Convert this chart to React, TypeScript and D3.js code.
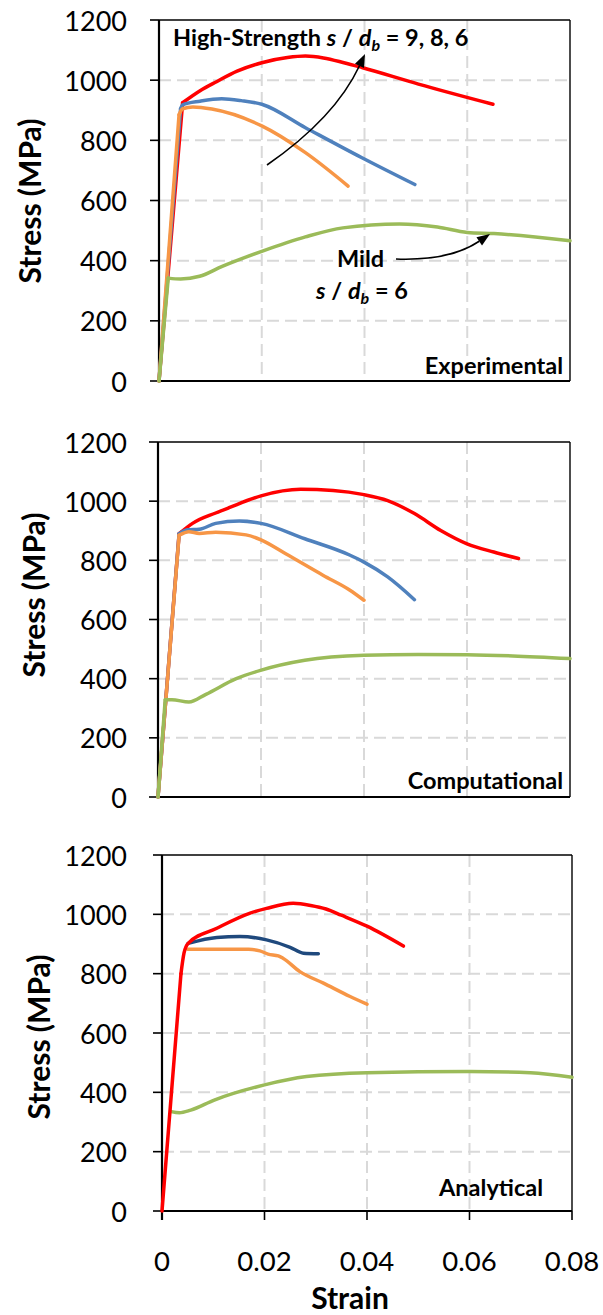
import React from 'react';
import * as d3 from 'd3';

type Pt = [number, number];

// ---------- data ----------
const strainTicks: number[] = [0, 0.02, 0.04, 0.06, 0.08];
const strainTickLabels: string[] = ['0', '0.02', '0.04', '0.06', '0.08'];
const stressTicks: number[] = [0, 200, 400, 600, 800, 1000, 1200];

// Experimental
const redExp: Pt[] = [[0, 0], [0.0046, 925], [0.008, 965], [0.0112, 995], [0.0152, 1030], [0.02, 1058], [0.025, 1075], [0.0285, 1080], [0.032, 1074], [0.036, 1058], [0.0395, 1042], [0.0505, 987], [0.065, 920]];
const blueExp: Pt[] = [[0, 0], [0.0042, 905], [0.0046, 918], [0.008, 930], [0.0122, 938], [0.016, 932], [0.02, 920], [0.0285, 842], [0.0395, 742], [0.0498, 653]];
const orangeExp: Pt[] = [[0, 0], [0.0039, 885], [0.0046, 905], [0.0066, 911], [0.0103, 904], [0.02, 848], [0.0285, 759], [0.0368, 648]];
const greenExp: Pt[] = [[0, 0], [0.0018, 342], [0.0042, 339], [0.0079, 348], [0.0123, 381], [0.02, 431], [0.0285, 479], [0.0358, 509], [0.0468, 522], [0.0542, 512], [0.06, 494], [0.0652, 490], [0.08, 466]];

// Computational
const redComp: Pt[] = [[0, 0], [0.0041, 890], [0.0067, 925], [0.0112, 960], [0.0138, 978], [0.02, 1018], [0.0277, 1040], [0.034, 1036], [0.04, 1022], [0.0446, 1002], [0.0498, 958], [0.0549, 901], [0.06, 856], [0.0652, 828], [0.07, 806]];
const blueComp: Pt[] = [[0, 0], [0.0041, 890], [0.0057, 903], [0.008, 905], [0.0112, 925], [0.0158, 933], [0.02, 925], [0.0285, 873], [0.0372, 818], [0.04, 794], [0.0446, 744], [0.0498, 667]];
const orangeComp: Pt[] = [[0, 0], [0.0041, 885], [0.006, 897], [0.008, 891], [0.0112, 895], [0.0171, 886], [0.02, 869], [0.0248, 822], [0.0321, 749], [0.0372, 700], [0.04, 665]];
const greenComp: Pt[] = [[0, 0], [0.0014, 329], [0.0027, 329], [0.006, 321], [0.0093, 347], [0.0152, 400], [0.0199, 428], [0.0285, 462], [0.04, 479], [0.0505, 482], [0.06, 481], [0.0689, 477], [0.08, 468]];

// Analytical
const redAna: Pt[] = [[0, 0], [0.0037, 800], [0.0043, 870], [0.0051, 902], [0.0107, 953], [0.0172, 1004], [0.0204, 1020], [0.0256, 1037], [0.029, 1030], [0.032, 1018], [0.035, 997], [0.04, 960], [0.0471, 893]];
const navyAna: Pt[] = [[0.0051, 902], [0.0107, 922], [0.0152, 925], [0.0204, 914], [0.025, 889], [0.0276, 869], [0.0305, 867]];
const orangeAna: Pt[] = [[0.005, 882], [0.0169, 882], [0.0191, 877], [0.0207, 866], [0.0227, 860], [0.0236, 852], [0.0269, 807], [0.0315, 768], [0.0367, 723], [0.04, 697]];
const greenAna: Pt[] = [[0.0018, 335], [0.0034, 331], [0.0056, 340], [0.0102, 374], [0.02, 425], [0.0282, 453], [0.04, 466], [0.06, 470], [0.0719, 466], [0.08, 451]];

// ---------- style / layout ----------
const RED = '#FF0000';
const BLUE = '#4F81BD';
const ORANGE = '#F79646';
const GREEN = '#9BBB59';
const NAVY = '#1F497D';
const FONT = "Lato, 'Open Sans', 'Noto Sans', sans-serif";

interface SeriesDef { data: Pt[]; color: string; linearUntil: number }
interface PanelDef {
  name: string; top: number; bottom: number; left: number; right: number;
  titleX: number; titleY: number; labelX: number; labelY: number;
  series: SeriesDef[]; xAxisLabels: boolean;
}

const panels: PanelDef[] = [
  {
    name: 'Experimental', top: 20, bottom: 381, left: 159, right: 570,
    titleX: 29, titleY: 201, labelX: 563, labelY: 374, xAxisLabels: false,
    series: [
      { data: redExp, color: RED, linearUntil: 1 },
      { data: blueExp, color: BLUE, linearUntil: 1 },
      { data: orangeExp, color: ORANGE, linearUntil: 1 },
      { data: greenExp, color: GREEN, linearUntil: 1 },
    ],
  },
  {
    name: 'Computational', top: 442, bottom: 797, left: 158, right: 570,
    titleX: 33, titleY: 595, labelX: 563, labelY: 789, xAxisLabels: false,
    series: [
      { data: redComp, color: RED, linearUntil: 1 },
      { data: blueComp, color: BLUE, linearUntil: 1 },
      { data: orangeComp, color: ORANGE, linearUntil: 1 },
      { data: greenComp, color: GREEN, linearUntil: 1 },
    ],
  },
  {
    name: 'Analytical', top: 855, bottom: 1211, left: 162, right: 572,
    titleX: 38, titleY: 1037, labelX: 543, labelY: 1196, xAxisLabels: true,
    series: [
      { data: greenAna, color: GREEN, linearUntil: 0 },
      { data: orangeAna, color: ORANGE, linearUntil: 0 },
      { data: navyAna, color: NAVY, linearUntil: 0 },
      { data: redAna, color: RED, linearUntil: 1 },
    ],
  },
];

function Arrow({ s, c, e }: { s: Pt; c: Pt; e: Pt }) {
  const p = d3.path();
  const ang = Math.atan2(e[1] - c[1], e[0] - c[0]);
  const len = 13, half = 5;
  const bx = e[0] - len * Math.cos(ang), by = e[1] - len * Math.sin(ang);
  p.moveTo(s[0], s[1]);
  p.quadraticCurveTo(c[0], c[1], bx, by);
  const h = d3.path();
  h.moveTo(e[0], e[1]);
  h.lineTo(bx + half * Math.sin(ang), by - half * Math.cos(ang));
  h.lineTo(bx - half * Math.sin(ang), by + half * Math.cos(ang));
  h.closePath();
  return (
    <g>
      <path d={p.toString()} fill="none" stroke="#000" strokeWidth={1.6} />
      <path d={h.toString()} fill="#000" />
    </g>
  );
}

function Panel({ cfg }: { cfg: PanelDef }) {
  const x = d3.scaleLinear().domain([0, 0.08]).range([cfg.left, cfg.right]);
  const y = d3.scaleLinear().domain([0, 1200]).range([cfg.bottom, cfg.top]);
  const lin = d3.line<Pt>().x(d => x(d[0])).y(d => y(d[1]));
  const smooth = d3.line<Pt>().x(d => x(d[0])).y(d => y(d[1])).curve(d3.curveMonotoneX);

  return (
    <g>
      {/* grid */}
      {stressTicks.filter(v => v > 0 && v < 1200).map(v => (
        <line key={'h' + v} x1={cfg.left} x2={cfg.right} y1={y(v)} y2={y(v)}
          stroke="#D9D9D9" strokeWidth={2} strokeDasharray="12,6" />
      ))}
      {strainTicks.filter(v => v > 0 && v < 0.08).map(v => (
        <line key={'v' + v} x1={x(v)} x2={x(v)} y1={cfg.top} y2={cfg.bottom}
          stroke="#D9D9D9" strokeWidth={2} strokeDasharray="12,6" />
      ))}
      {/* frame */}
      <line x1={cfg.left} x2={cfg.right} y1={cfg.top} y2={cfg.top} stroke="#000" strokeWidth={1.4} />
      <line x1={cfg.right} x2={cfg.right} y1={cfg.top} y2={cfg.bottom} stroke="#000" strokeWidth={1.4} />
      <line x1={cfg.left} x2={cfg.right} y1={cfg.bottom} y2={cfg.bottom} stroke="#000" strokeWidth={2} />
      <line x1={cfg.left} x2={cfg.left} y1={cfg.top} y2={cfg.bottom + (cfg.xAxisLabels ? 9 : 0)} stroke="#000" strokeWidth={2.2} />
      {/* y ticks */}
      {stressTicks.map(v => (
        <g key={'yt' + v}>
          <line x1={cfg.left - 9} x2={cfg.left} y1={y(v)} y2={y(v)} stroke="#000" strokeWidth={1.6} />
          <text x={127} y={y(v)} dominantBaseline="central" textAnchor="end"
            fontFamily={FONT} fontSize={27} fill="#000">{v}</text>
        </g>
      ))}
      {/* x ticks */}
      {cfg.xAxisLabels && strainTicks.map((v, i) => (
        <g key={'xt' + v}>
          <line x1={x(v)} x2={x(v)} y1={cfg.bottom} y2={cfg.bottom + 9} stroke="#000" strokeWidth={1.6} />
          <text x={x(v)} y={cfg.bottom + 49} dominantBaseline="central" textAnchor="middle"
            fontFamily={FONT} fontSize={27.5} fill="#000">{strainTickLabels[i]}</text>
        </g>
      ))}
      {/* series */}
      {cfg.series.map((s, i) => (
        <g key={'s' + i}>
          {s.linearUntil > 0 && (
            <path d={lin(s.data.slice(0, s.linearUntil + 1)) || ''} fill="none" stroke={s.color}
              strokeWidth={3.5} strokeLinecap="round" strokeLinejoin="round" />
          )}
          <path d={smooth(s.data.slice(s.linearUntil)) || ''} fill="none" stroke={s.color}
            strokeWidth={3.5} strokeLinecap="round" strokeLinejoin="round" />
        </g>
      ))}
      {/* y title */}
      <text transform={`translate(${cfg.titleX},${cfg.titleY}) rotate(-90)`} textAnchor="middle"
        dominantBaseline="central" fontFamily={FONT} fontWeight="bold" fontSize={30} fill="#000">Stress (MPa)</text>
      {/* panel label */}
      <text x={cfg.labelX} y={cfg.labelY} textAnchor="end" fontFamily={FONT} fontWeight="bold"
        fontSize={23.5} fill="#000">{cfg.name}</text>
    </g>
  );
}

export default function App() {
  return (
    <div style={{ position: 'absolute', left: 0, top: 0 }}>
      <svg width={603} height={1315} style={{ display: 'block', background: '#fff' }}>
        {panels.map(p => <Panel key={p.name} cfg={p} />)}
        {/* annotations, panel 1 */}
        <text x={173} y={46} fontFamily={FONT} fontWeight="bold" fontSize={23.5} fill="#000">
          <tspan>High-Strength </tspan>
          <tspan fontStyle="italic">s</tspan>
          <tspan> / </tspan>
          <tspan fontStyle="italic">d</tspan>
          <tspan fontStyle="italic" fontSize={16} dy={5}>b</tspan>
          <tspan dy={-5}> = 9, 8, 6</tspan>
        </text>
        <Arrow s={[267, 165]} c={[335, 118]} e={[365, 54]} />
        <text x={337} y={267} fontFamily={FONT} fontWeight="bold" fontSize={23.5} fill="#000">Mild</text>
        <text x={316} y={299} fontFamily={FONT} fontWeight="bold" fontSize={23.5} fill="#000">
          <tspan fontStyle="italic">s</tspan>
          <tspan> / </tspan>
          <tspan fontStyle="italic">d</tspan>
          <tspan fontStyle="italic" fontSize={16} dy={5}>b</tspan>
          <tspan dy={-5}> = 6</tspan>
        </text>
        <Arrow s={[396, 259]} c={[450, 261]} e={[490, 234]} />
        {/* x title */}
        <text x={350} y={1297} textAnchor="middle" dominantBaseline="central" fontFamily={FONT}
          fontWeight="bold" fontSize={30} fill="#000">Strain</text>
      </svg>
    </div>
  );
}
